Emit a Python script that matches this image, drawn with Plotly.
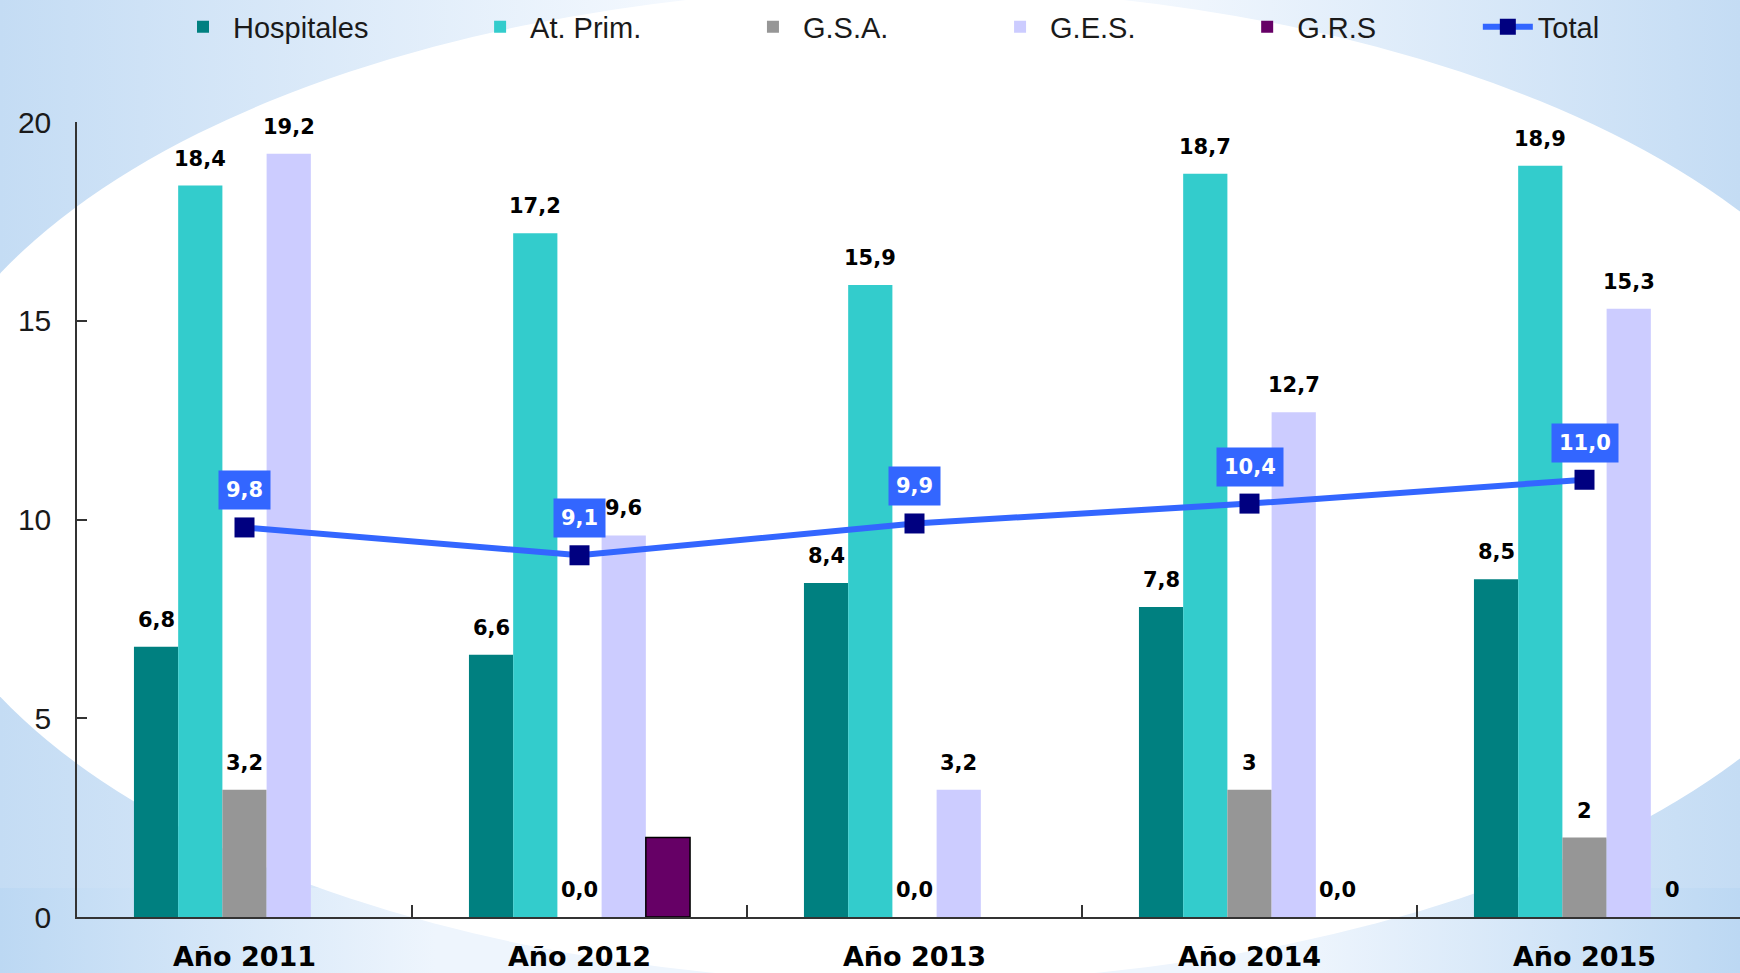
import base64
import plotly.graph_objects as go

# ---------------- data ----------------
categories = ["Año 2011", "Año 2012", "Año 2013", "Año 2014", "Año 2015"]

hospitales = [6.8, 6.6, 8.4, 7.8, 8.5]
at_prim = [18.4, 17.2, 15.9, 18.7, 18.9]
gsa = [3.2, 0.0, 0.0, 3.2, 2.0]
ges = [19.2, 9.6, 3.2, 12.7, 15.3]
grs = [None, 2.0, None, 0.0, 0.0]
total = [9.8, 9.1, 9.9, 10.4, 11.0]

hosp_labels = ["6,8", "6,6", "8,4", "7,8", "8,5"]
at_prim_labels = ["18,4", "17,2", "15,9", "18,7", "18,9"]
gsa_labels = ["3,2", "0,0", "0,0", "3", "2"]
ges_labels = ["19,2", "9,6", "3,2", "12,7", "15,3"]
grs_labels = ["", "", "", "0,0", "0"]
total_labels = ["9,8", "9,1", "9,9", "10,4", "11,0"]

y_ticks = [0, 5, 10, 15, 20]

# ---------------- style ----------------
W, H = 1740, 973
ML, MR, MT, MB = 77, 0, 122, 56
BARGAP = 0.34
SANS = "Liberation Sans, Arial, sans-serif"
BOLD = "DejaVu Sans, Verdana, sans-serif"
PAD = "\u00a0" * 12

series = [
    ("Hospitales", hospitales, hosp_labels, "#008080", None),
    ("At. Prim.", at_prim, at_prim_labels, "#33CCCC", None),
    ("G.S.A.", gsa, gsa_labels, "#969696", None),
    ("G.E.S.", ges, ges_labels, "#CCCCFF", None),
    ("G.R.S", grs, grs_labels, "#660066", "#000000"),
]

fig = go.Figure()
for name, vals, labs, color, edge in series:
    widths = [1.5 if (edge and v) else 0 for v in vals]
    fig.add_trace(go.Bar(
        x=categories, y=vals, name=name + PAD,
        marker=dict(color=color,
                    line=dict(color=edge if edge else color, width=widths)),
        hoverinfo="skip",
    ))

fig.add_trace(go.Scatter(
    x=categories, y=total, name="Total", mode="lines+markers",
    line=dict(color="#3366FF", width=6),
    marker=dict(symbol="square", size=20, color="#000080"),
    hoverinfo="skip",
))

# bar value labels placed through the axes
n = len(series)
bw = (1 - BARGAP) / n
annotations = []
for k, (name, vals, labs, color, edge) in enumerate(series):
    for i, (v, t) in enumerate(zip(vals, labs)):
        if v is None or t == "":
            continue
        annotations.append(dict(
            x=i + (k - (n - 1) / 2) * bw, y=v, xref="x", yref="y",
            text=t, showarrow=False, yanchor="bottom", yshift=13,
            font=dict(family=BOLD, size=21, color="#000000", weight="bold"),
        ))
for i, (v, t) in enumerate(zip(total, total_labels)):
    annotations.append(dict(
        x=i, y=v, xref="x", yref="y", text=t, showarrow=False,
        yanchor="middle", yshift=37, bgcolor="#3366FF", borderpad=7,
        font=dict(family=BOLD, size=21, color="#FFFFFF", weight="bold"),
    ))

# decorative background (blue template with white ellipse)
svg = f'''<svg xmlns="http://www.w3.org/2000/svg" width="{W}" height="{H}" viewBox="0 0 {W} {H}">
<defs>
<linearGradient id="g" x1="0" y1="0" x2="1" y2="0">
<stop offset="0" stop-color="#c4dcf4"/><stop offset="0.42" stop-color="#f8fbff"/>
<stop offset="0.62" stop-color="#f8fbff"/><stop offset="1" stop-color="#c4dcf4"/></linearGradient>
<linearGradient id="b" x1="0" y1="0" x2="1" y2="0">
<stop offset="0" stop-color="#bcd8f3"/><stop offset="0.25" stop-color="#eef5fd"/>
<stop offset="0.75" stop-color="#eef5fd"/><stop offset="1" stop-color="#bcd8f3"/></linearGradient>
</defs>
<rect x="0" y="0" width="{W}" height="{H}" fill="url(#g)"/>
<rect x="0" y="888" width="{W}" height="{H-888}" fill="url(#b)"/>
<ellipse cx="905" cy="485" rx="1000" ry="497" fill="#ffffff"/>
</svg>'''
src = "data:image/svg+xml;base64," + base64.b64encode(svg.encode()).decode()
pw, ph = W - ML - MR, H - MT - MB

fig.update_layout(
    width=W, height=H, autosize=False,
    margin=dict(l=ML, r=MR, t=MT, b=MB, pad=0, autoexpand=False),
    barmode="group", bargap=BARGAP, bargroupgap=0,
    paper_bgcolor="#ffffff", plot_bgcolor="rgba(0,0,0,0)",
    showlegend=True,
    legend=dict(orientation="h", x=(173 - ML) / pw, xanchor="left",
                y=1 + (MT - 27) / ph, yanchor="middle",
                itemwidth=50, bgcolor="rgba(0,0,0,0)",
                font=dict(family=SANS, size=29, color="#1a1a1a"),
                traceorder="normal", itemclick=False, itemdoubleclick=False),
    annotations=annotations,
    images=[dict(source=src, xref="paper", yref="paper",
                 x=-ML / pw, y=1 + MT / ph, sizex=W / pw, sizey=H / ph,
                 xanchor="left", yanchor="top", sizing="stretch", layer="below")],
)
fig.update_xaxes(
    type="category", range=[-0.5, -0.5 + pw / 335.0],
    showline=True, linecolor="#333333", linewidth=1.5,
    ticks="inside", ticklen=12, tickcolor="#333333", tickwidth=1.5,
    tickson="boundaries", showgrid=False, zeroline=False,
    ticklabelstandoff=15,
    tickfont=dict(family=BOLD, size=27, color="#000000", weight="bold"),
)
fig.update_yaxes(
    range=[0, 20], tickvals=y_ticks, showline=True, linecolor="#333333", linewidth=1.5,
    ticks="inside", ticklen=10, tickcolor="#333333", tickwidth=1.5,
    showgrid=False, zeroline=False, ticklabelstandoff=18,
    tickfont=dict(family=SANS, size=30, color="#1a1a1a"),
)

fig.write_html("out.html", config={"displayModeBar": False},
               post_script="document.body.style.margin='0';document.body.style.overflow='hidden';")
